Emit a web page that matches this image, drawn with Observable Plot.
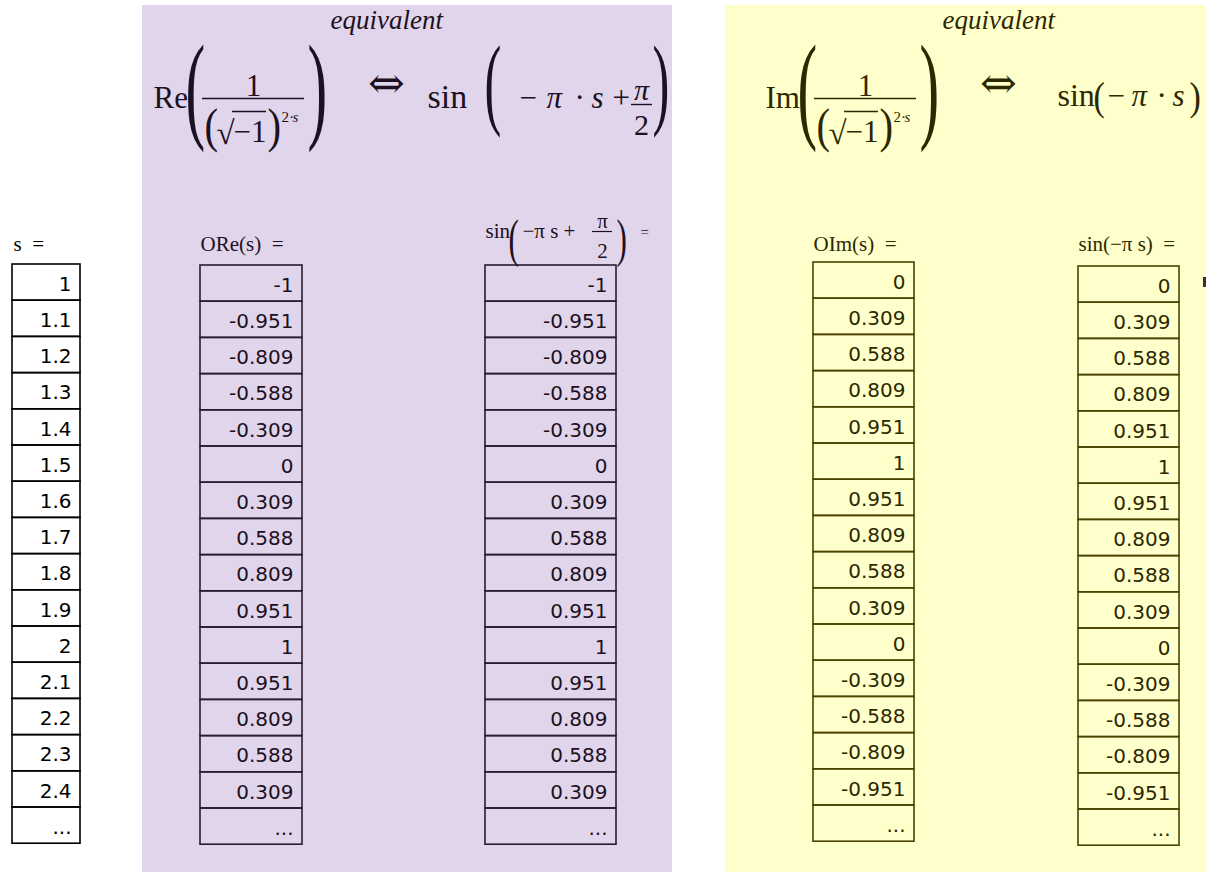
<!DOCTYPE html>
<html><head><meta charset="utf-8">
<script src="https://cdn.jsdelivr.net/npm/d3@7"></script>
<script src="https://cdn.jsdelivr.net/npm/@observablehq/plot@0.6"></script>
<style>html,body{margin:0;padding:0;background:#fff} svg{display:block}</style>
</head><body><div id="chart"></div>
<script>
// ---- data ----
const sValues     = [1, 1.1, 1.2, 1.3, 1.4, 1.5, 1.6, 1.7, 1.8, 1.9, 2, 2.1, 2.2, 2.3, 2.4];
const oreValues   = [-1, -0.951, -0.809, -0.588, -0.309, 0, 0.309, 0.588, 0.809, 0.951, 1, 0.951, 0.809, 0.588, 0.309];
const sinReValues = [-1, -0.951, -0.809, -0.588, -0.309, 0, 0.309, 0.588, 0.809, 0.951, 1, 0.951, 0.809, 0.588, 0.309];
const oimValues   = [0, 0.309, 0.588, 0.809, 0.951, 1, 0.951, 0.809, 0.588, 0.309, 0, -0.309, -0.588, -0.809, -0.951];
const sinImValues = [0, 0.309, 0.588, 0.809, 0.951, 1, 0.951, 0.809, 0.588, 0.309, 0, -0.309, -0.588, -0.809, -0.951];
const moreLabel = "...";

// ---- styles ----
const purpleBg = "#e1d5eb", purpleInk = "#1c1022", purpleLine = "#2a1c30";
const yellowBg = "#ffffcc", yellowInk = "#2c2800", yellowLine = "#4a4300";
const serif = "Liberation Serif, Times New Roman, DejaVu Serif, serif";
const sans = "DejaVu Sans, Verdana, sans-serif";
const rowH = 36.2;

const columns = [
  {values: sValues,     x1: 12,   x2: 80,   top: 264, line: "#000", ink: "#000"},
  {values: oreValues,   x1: 200,  x2: 302,  top: 265, line: purpleLine, ink: purpleInk},
  {values: sinReValues, x1: 485,  x2: 616,  top: 265, line: purpleLine, ink: purpleInk},
  {values: oimValues,   x1: 813,  x2: 914,  top: 262, line: yellowLine, ink: yellowInk},
  {values: sinImValues, x1: 1078, x2: 1179, top: 266, line: yellowLine, ink: yellowInk}
];

const marks = [];
// panels
marks.push(Plot.rect([0], {x1: () => 142, x2: () => 672, y1: () => 5, y2: () => 872, fill: purpleBg}));
marks.push(Plot.rect([0], {x1: () => 725, x2: () => 1206, y1: () => 5, y2: () => 872, fill: yellowBg}));

// tables
for (const col of columns) {
  const cells = col.values.map((v, i) => ({i, label: String(v)}));
  cells.push({i: col.values.length, label: moreLabel});
  marks.push(Plot.rect(cells, {
    x1: () => col.x1, x2: () => col.x2,
    y1: d => col.top + d.i * rowH, y2: d => col.top + (d.i + 1) * rowH,
    fill: "none", stroke: col.line, strokeWidth: 1.6
  }));
  marks.push(Plot.text(cells, {
    x: () => col.x2 - 9, y: d => col.top + (d.i + 1) * rowH - 10,
    text: "label", textAnchor: "end", lineAnchor: "bottom",
    fontFamily: sans, fontSize: 20, fill: col.ink
  }));
}

// text helper
function T(x, y, s, o = {}) {
  return Plot.text([s], {x: () => x, y: () => y, text: d => d,
    textAnchor: o.anchor || "start", lineAnchor: o.line || "bottom",
    fontFamily: o.font || serif, fontSize: o.size || 20, fontStyle: o.italic ? "italic" : "normal",
    fill: o.fill || "#000", ariaDescription: o.aria || "text"});
}
function R(x1, x2, y, fill, w = 1.3) {
  return Plot.ruleY([y], {x1: () => x1, x2: () => x2, y: d => d, stroke: fill, strokeWidth: w});
}

// column headings
marks.push(T(13, 250, "s\u00a0\u00a0=", {size: 21}));
marks.push(T(200, 250, "ORe(s)\u00a0\u00a0=", {size: 21, fill: purpleInk}));
marks.push(T(813, 250, "OIm(s)\u00a0\u00a0=", {size: 21, fill: yellowInk}));
marks.push(T(1078, 250, "sin(\u2212\u03c0\u00a0s)\u00a0\u00a0=", {size: 21, fill: yellowInk}));
// sin(-pi s + pi/2) =
marks.push(T(485, 237, "sin", {size: 21, fill: purpleInk}));
marks.push(T(508, 255, "(", {size: 52, fill: purpleInk, aria: "paren6"}));
marks.push(T(522, 237, "\u2212\u03c0\u00a0s\u00a0+", {size: 21, fill: purpleInk}));
marks.push(T(602, 227, "\u03c0", {size: 21, fill: purpleInk, anchor: "middle"}));
marks.push(R(592, 612, 231, purpleInk, 1.2));
marks.push(T(602, 257, "2", {size: 21, fill: purpleInk, anchor: "middle"}));
marks.push(T(616, 255, ")", {size: 52, fill: purpleInk, aria: "paren6"}));
marks.push(T(640, 236, "=", {size: 15, fill: purpleInk}));

// Re / Im left formula blocks
function leftBlock(ox, name, ink) {
  const m = [];
  m.push(T(153 + ox, 107, name, {size: 31, fill: ink}));
  m.push(T(185 + ox, 126, "(", {size: 118, fill: ink, aria: "paren5"}));
  m.push(T(253 + ox, 95, "1", {size: 31, fill: ink, anchor: "middle"}));
  m.push(R(202 + ox, 304 + ox, 98, ink, 1.4));
  m.push(T(204 + ox, 141, "(", {size: 48, fill: ink, aria: "paren8"}));
  m.push(T(216 + ox, 143, "\u221a", {size: 33, fill: ink}));
  m.push(R(232 + ox, 266 + ox, 111, ink, 1.4));
  m.push(T(233 + ox, 141, "\u22121", {size: 31, fill: ink}));
  m.push(T(267 + ox, 141, ")", {size: 48, fill: ink, aria: "paren8"}));
  m.push(T(281 + ox, 121, "2\u00b7", {size: 15, fill: ink}));
  m.push(T(292 + ox, 121, "s", {size: 15, fill: ink, italic: true}));
  m.push(T(307 + ox, 126, ")", {size: 118, fill: ink, aria: "paren5"}));
  m.push(T(330 + ox, 28, "equivalent", {size: 27, fill: ink, italic: true}));
  m.push(T(386 + ox, 83, "\u21d4", {size: 44, fill: ink, anchor: "middle", line: "middle", font: "DejaVu Serif, DejaVu Sans"}));
  return m;
}
marks.push(...leftBlock(0, "Re", purpleInk));
marks.push(...leftBlock(612, "Im", yellowInk));

// Re right side: sin(-pi*s + pi/2)
marks.push(T(427, 107, "sin", {size: 34, fill: purpleInk}));
marks.push(T(484, 115, "(", {size: 101, fill: purpleInk, aria: "paren5"}));
marks.push(T(519, 107, "\u2212", {size: 31, fill: purpleInk}));
marks.push(T(546, 107, "\u03c0", {size: 31, fill: purpleInk, italic: true}));
marks.push(T(574, 107, "\u00b7", {size: 31, fill: purpleInk}));
marks.push(T(591, 107, "s", {size: 31, fill: purpleInk, italic: true}));
marks.push(T(612, 107, "+", {size: 31, fill: purpleInk}));
marks.push(T(641, 99, "\u03c0", {size: 30, fill: purpleInk, italic: true, anchor: "middle"}));
marks.push(R(631, 652, 104, purpleInk, 1.4));
marks.push(T(641, 134, "2", {size: 30, fill: purpleInk, anchor: "middle"}));
marks.push(T(652, 115, ")", {size: 101, fill: purpleInk, aria: "paren5"}));

// Im right side: sin(-pi*s)
marks.push(T(1057, 105, "sin", {size: 32, fill: yellowInk}));
marks.push(T(1093, 109, "(", {size: 40, fill: yellowInk, aria: "paren8"}));
marks.push(T(1107, 105, "\u2212", {size: 31, fill: yellowInk}));
marks.push(T(1131, 105, "\u03c0", {size: 31, fill: yellowInk, italic: true}));
marks.push(T(1156, 105, "\u00b7", {size: 31, fill: yellowInk}));
marks.push(T(1172, 105, "s", {size: 31, fill: yellowInk, italic: true}));
marks.push(T(1189, 109, ")", {size: 40, fill: yellowInk, aria: "paren8"}));

// cursor mark
marks.push(Plot.rect([0], {x1: () => 1203, x2: () => 1206, y1: () => 277, y2: () => 287, fill: "#333"}));

const chart = Plot.plot({
  width: 1206, height: 872, margin: 0,
  x: {domain: [0, 1206], range: [0, 1206], axis: null},
  y: {domain: [0, 872], range: [0, 872], axis: null},
  style: {background: "#fff", overflow: "visible"},
  marks
});

// narrow the tall parentheses horizontally
const scales = {paren5: 0.5, paren6: 0.6, paren8: 0.85};
for (const [label, sx] of Object.entries(scales)) {
  d3.select(chart).selectAll(`g[aria-description="${label}"] text`).each(function () {
    const t = this.getAttribute("transform");
    if (t) this.setAttribute("transform", t + ` scale(${sx},1)`);
    else {
      const x = this.getAttribute("x") || 0, y = this.getAttribute("y") || 0;
      this.setAttribute("transform", `translate(${x},${y}) scale(${sx},1)`);
      this.removeAttribute("x"); this.removeAttribute("y");
    }
  });
}
document.getElementById("chart").appendChild(chart);
</script>
</body></html>
